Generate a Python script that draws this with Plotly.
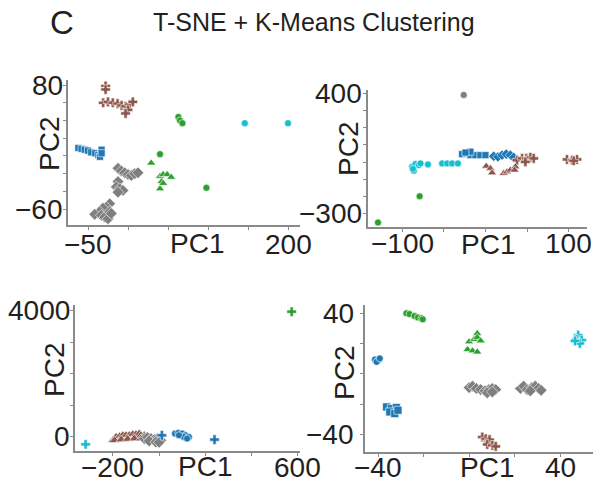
import plotly.graph_objects as go

W, H = 595, 489
M = "\u2212"

BLUE, BROWN, GRAY, GREEN, CYAN = "#1f77b4", "#8c564b", "#7f7f7f", "#2ca02c", "#17becf"

# ---------------- Panel 1 (top-left) ----------------
p1_brown_x = [-28, -28, -31, -25, -19, -13, -8, -3, 2, 6, 0, -3]
p1_brown_y = [79, 75, 60, 61, 60, 59, 57, 56, 58, 61, 52, 48]
p1_blue_x = [-62, -58, -54, -50, -46, -41, -37, -35, -33, -33]
p1_blue_y = [9, 8, 7, 6, 4, 3, 1, -1, 7, 3]
p1_gray_x = [-12.5, -8.4, -4.1, 0, 4.1, 8.4, 12.5, -12.5, -14.6, -10.4, -6.3, -12.5,
             -22.9, -27.1, -31.3, -35.4, -41.6, -33.4, -29.1, -25, -22.9, -20.9]
p1_gray_y = [-14, -17, -19, -21, -22, -20, -19, -29, -35, -37, -39, -41,
             -54, -58, -59, -63, -66, -67, -69, -71, -63, -65]
p1_green_tri_x = [29, 40, 44, 49, 54, 42, 40, 44]
p1_green_tri_y = [-8, -23, -21, -21, -24, -29, -37, -31]
p1_green_circ_x = [40, 63, 65, 68, 98]
p1_green_circ_y = [2, 44, 40, 37, -36]
p1_cyan_x = [146, 200]
p1_cyan_y = [37, 37]

# ---------------- Panel 2 (top-right) ----------------
p2_gray_x = [-26]
p2_gray_y = [390]
p2_green_x = [-79, -129]
p2_green_y = [-199, -352]
p2_cyan_x = [-88, -84, -80, -86, -78, -69, -52, -46, -40, -33, -87]
p2_cyan_y = [-28, -12, -18, -51, -8, -14, -8, -8, -8, -8, -40]
p2_blue_sq_x = [-28, -22, -18, -12, -6, 0, -18, -24]
p2_blue_sq_y = [46, 50, 40, 40, 40, 40, 60, 55]
p2_blue_dia_x = [10, 15, 20, 25, 30, 34]
p2_blue_dia_y = [34, 30, 40, 46, 40, 27]
p2_brown_cross_x = [38, 44, 49, 54, 58, 48, 98, 104, 110, 106]
p2_brown_cross_y = [11, 21, 21, 27, 21, 1, 15, 11, 15, 7]
p2_brown_tri_x = [1, 6, 8, 22, 26, 30, 36, 35]
p2_brown_tri_y = [-24, -37, -63, -66, -57, -47, -28, -47]

# ---------------- Panel 3 (bottom-left) ----------------
p3_green_x = [574]
p3_green_y = [3969]
p3_cyan_x = [-318]
p3_cyan_y = [-232]
p3_brown_x = [-200, -186, -171, -157, -143, -129, -114, -100, -86, -79, -64, -50,
              -193, -164, -136, -107, -79]
p3_brown_y = [-105, 0, 22, 54, 54, 54, 86, 86, 108, 54, 54, 0,
              -105, -83, -64, -51, -51]
p3_gray_x = [-64, -50, -35, -21, -7, 7, -43, -14, 0]
p3_gray_y = [-51, -19, -51, -83, -51, -105, -127, -159, -168]
p3_blue_circ_x = [69, 83, 100, 114, 129, 107, 121, 86]
p3_blue_circ_y = [108, 127, 108, 54, 0, 0, -51, 54]
p3_blue_cross_x = [12, 240]
p3_blue_cross_y = [54, -83]

# ---------------- Panel 4 (bottom-right) ----------------
p4_blue_circ_x = [-41.4, -40, -40.7, -39.3]
p4_blue_circ_y = [9.5, 9, 7.9, 10.2]
p4_blue_sq_x = [-36.3, -34.2, -32, -34.9, -32.7, -31.3]
p4_blue_sq_y = [-21.9, -23, -22.3, -25.2, -26.3, -24.1]
p4_green_circ_x = [-27.6, -26.2, -24, -22.5, -21, -20.4]
p4_green_circ_y = [40, 39.5, 38.2, 37.3, 36.7, 36]
p4_green_tri_x = [0, 2.2, 3.6, 3.6, 5.1, -0.7, 1.5, 3.6]
p4_green_tri_y = [21.2, 22.8, 26.7, 24.1, 21.8, 16.1, 15.2, 14.5]
p4_gray_x = [0, 1.5, 3.2, 5.1, 7, 8.7, 10.2, 11.7, 8, 10.2,
             22.6, 24, 25.5, 27.6, 29.1, 30.5, 31.7, 26.9]
p4_gray_y = [-9.1, -8.2, -9.7, -10.4, -11.3, -10.4, -9.7, -10.4, -12.6, -12,
             -9.7, -8.2, -10.4, -9.1, -8.2, -9.7, -10.9, -11.3]
p4_brown_x = [5.8, 7.3, 9, 8, 10.2, 11.7]
p4_brown_y = [-41.8, -42.9, -43.5, -46.7, -47.3, -48]
p4_cyan_x = [48, 47.3, 49.5, 48.7, 46.6]
p4_cyan_y = [25.6, 22.8, 22.3, 20.1, 21.8]

# ---------------- Ticks ----------------
p1_xticks = [-50, 0, 50, 100, 150, 200]
p1_xtext = [M + "50", "", "", "", "", "200"]
p1_yticks = [-60, -40, -20, 0, 20, 40, 60, 80]
p1_ytext = [M + "60", "", "", "", "", "", "", "80"]
p2_xticks = [-100, -50, 0, 50, 100]
p2_xtext = [M + "100", "", "", "", "100"]
p2_yticks = [-300, -200, -100, 0, 100, 200, 300, 400]
p2_ytext = [M + "300", "", "", "", "", "", "", "400"]
p3_xticks = [-200, 0, 200, 400, 600]
p3_xtext = [M + "200", "", "", "", "600"]
p3_yticks = [0, 1000, 2000, 3000, 4000]
p3_ytext = ["0", "", "", "", "4000"]
p4_xticks = [-40, -20, 0, 20, 40]
p4_xtext = [M + "40", "", "", "", "40"]
p4_yticks = [-40, -20, 0, 20, 40]
p4_ytext = [M + "40", "", "", "", "40"]

FONT = "Liberation Sans, Arial, Helvetica, sans-serif"
TXT = "#231f20"
AX = "#8a8a8a"
FS = 28


def px_dom_x(a, b):
    return [a / W, b / W]


def px_dom_y(top, bottom):
    return [1 - bottom / H, 1 - top / H]


fig = go.Figure()


def add(xs, ys, color, symbol, size, k):
    sx = "" if k == 1 else str(k)
    fig.add_trace(go.Scatter(
        x=xs, y=ys, mode="markers",
        marker=dict(color=color, symbol=symbol, size=size,
                    line=dict(width=0.6, color="white")),
        xaxis="x" + sx, yaxis="y" + sx,
        showlegend=False, hoverinfo="skip"))


# panel 1
add(p1_brown_x, p1_brown_y, BROWN, "cross", 8, 1)
add(p1_blue_x, p1_blue_y, BLUE, "square", 7, 1)
add(p1_gray_x, p1_gray_y, GRAY, "diamond", 9, 1)
add(p1_green_tri_x, p1_green_tri_y, GREEN, "triangle-up", 8, 1)
add(p1_green_circ_x, p1_green_circ_y, GREEN, "circle", 7, 1)
add(p1_cyan_x, p1_cyan_y, CYAN, "circle", 7, 1)
# panel 2
add(p2_gray_x, p2_gray_y, GRAY, "circle", 7, 2)
add(p2_green_x, p2_green_y, GREEN, "circle", 7, 2)
add(p2_cyan_x, p2_cyan_y, CYAN, "circle", 7, 2)
add(p2_blue_sq_x, p2_blue_sq_y, BLUE, "square", 7, 2)
add(p2_blue_dia_x, p2_blue_dia_y, BLUE, "diamond", 8, 2)
add(p2_brown_cross_x, p2_brown_cross_y, BROWN, "cross", 8, 2)
add(p2_brown_tri_x, p2_brown_tri_y, BROWN, "triangle-up", 8, 2)
# panel 3
add(p3_brown_x, p3_brown_y, BROWN, "triangle-up", 9, 3)
add(p3_gray_x, p3_gray_y, GRAY, "diamond", 9, 3)
add(p3_blue_circ_x, p3_blue_circ_y, BLUE, "circle", 7, 3)
add(p3_blue_cross_x, p3_blue_cross_y, BLUE, "cross", 8, 3)
add(p3_cyan_x, p3_cyan_y, CYAN, "cross", 8, 3)
add(p3_green_x, p3_green_y, GREEN, "cross", 8, 3)
# panel 4
add(p4_blue_circ_x, p4_blue_circ_y, BLUE, "circle", 7, 4)
add(p4_blue_sq_x, p4_blue_sq_y, BLUE, "square", 8, 4)
add(p4_green_circ_x, p4_green_circ_y, GREEN, "circle", 7, 4)
add(p4_green_tri_x, p4_green_tri_y, GREEN, "triangle-up", 8, 4)
add(p4_gray_x, p4_gray_y, GRAY, "diamond", 9, 4)
add(p4_brown_x, p4_brown_y, BROWN, "cross", 8, 4)
add(p4_cyan_x, p4_cyan_y, CYAN, "cross", 8, 4)


def axis(domain, rng, tv, anchor):
    return dict(domain=domain, range=rng, tickvals=tv, anchor=anchor,
                showline=True, linecolor=AX, linewidth=1.5, mirror=False,
                ticks="outside", ticklen=3, tickwidth=1, tickcolor=AX,
                showticklabels=False, automargin=False,
                showgrid=False, zeroline=False)


panels = [
    # xdom px, ydom px (top,bottom), xrange, yrange, ticks, x-label shift, y-label gap, PC1 pos, PC2 pos
    ((68, 300), (80, 225), [-75, 215], [-78, 85.7], p1_xticks, p1_xtext, p1_yticks, p1_ytext, -19, 3, (197, 243), (49, 144)),
    ((368, 587), (90, 227), [-141, 122], [-378, 419], p2_xticks, p2_xtext, p2_yticks, p2_ytext, -16, 4, (488, 244), (349, 149)),
    ((75, 300), (305, 451), [-364, 610], [-444, 4181], p3_xticks, p3_xtext, p3_yticks, p3_ytext, -16, 3, (205, 466), (54, 370)),
    ((365, 593), (305, 452), [-45.8, 54.5], [-51.7, 45.5], p4_xticks, p4_xtext, p4_yticks, p4_ytext, -15, 9, (487, 467), (344, 373)),
]

layout = dict(width=W, height=H, margin=dict(l=0, r=0, t=0, b=0),
              paper_bgcolor="white", plot_bgcolor="white")
for i, (xd, yd, xr, yr, xtv, xtt, ytv, ytt, xsh, ygap, pc1, pc2) in enumerate(panels, start=1):
    sx = "" if i == 1 else str(i)
    layout["xaxis" + sx] = axis(px_dom_x(*xd), xr, xtv, "y" + sx)
    layout["yaxis" + sx] = axis(px_dom_y(*yd), yr, ytv, "x" + sx)
fig.update_layout(**layout)

tfont = dict(family=FONT, size=FS, color=TXT)
for i, (xd, yd, xr, yr, xtv, xtt, ytv, ytt, xsh, ygap, pc1, pc2) in enumerate(panels, start=1):
    sx = "" if i == 1 else str(i)
    for v, t in zip(xtv, xtt):
        if t:
            fig.add_annotation(text=t, x=v, xref="x" + sx, y=0, yref=f"y{sx} domain",
                               yanchor="middle", xanchor="center", yshift=xsh,
                               showarrow=False, font=tfont)
    for v, t in zip(ytv, ytt):
        if t:
            fig.add_annotation(text=t, x=0, xref=f"x{sx} domain", y=v, yref="y" + sx,
                               xanchor="right", yanchor="middle", xshift=-ygap,
                               showarrow=False, font=tfont)
    fig.add_annotation(text="PC1", x=pc1[0] / W, y=1 - pc1[1] / H, xref="paper", yref="paper",
                       showarrow=False, xanchor="center", yanchor="middle", font=tfont)
    fig.add_annotation(text="PC2", x=pc2[0] / W, y=1 - pc2[1] / H, xref="paper", yref="paper",
                       showarrow=False, xanchor="center", yanchor="middle", textangle=-90,
                       font=tfont)

fig.add_annotation(text="C", x=62 / W, y=1 - 23 / H, xref="paper", yref="paper",
                   showarrow=False, xanchor="center", yanchor="middle",
                   font=dict(family=FONT, size=33, color=TXT))
fig.add_annotation(text="T-SNE + K-Means Clustering", x=314 / W, y=1 - 22 / H,
                   xref="paper", yref="paper", showarrow=False,
                   xanchor="center", yanchor="middle",
                   font=dict(family=FONT, size=25, color=TXT))

fig.write_html("out.html")
